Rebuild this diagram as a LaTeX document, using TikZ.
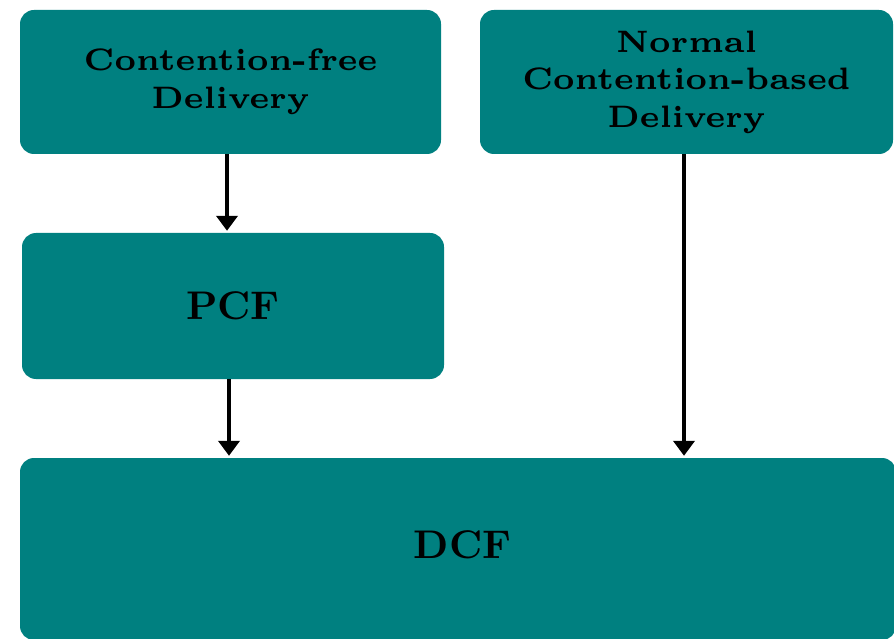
\documentclass[tikz,border=0pt]{standalone}
\usepackage{fontspec}
% wide small-design bold for the box captions, text-size bold for the short labels
\newfontfamily\labelfont{lmroman6-bold}[Extension=.otf]
\newfontfamily\headfont{lmroman10-bold}[Extension=.otf]
\usetikzlibrary{arrows.meta}
\definecolor{boxteal}{RGB}{0,128,128}
\begin{document}
\begin{tikzpicture}[x=1pt,y=1pt,
  block/.style={fill=boxteal, draw=none, rounded corners=14pt, inner sep=0pt,
    align=center, font=\fontsize{31}{37.5}\labelfont},
  bigtext/.style={font=\fontsize{40}{46}\headfont},
  flow/.style={line width=4.5pt, shorten >=2pt, -{Triangle[length=15pt,width=21pt]}}]
\useasboundingbox (0,0) rectangle (894,638);
\fill[white] (0,0) rectangle (894,638);
\node[block, minimum width=421pt, minimum height=144pt] (cfree) at (230.5,556) {Contention-free\\Delivery};
\node[block, minimum width=413pt, minimum height=144pt] (normal) at (686.5,556) {Normal\\Contention-based\\Delivery};
\node[block, minimum width=422pt, minimum height=146pt, bigtext] (pcf) at (233,332) {PCF};
\node[block, minimum width=876pt, minimum height=182pt] (dcf) at (458,89) {};
\node[bigtext] (dcflabel) at (462.5,93) {DCF};
\coordinate (a1) at (227,484);
\coordinate (a2) at (229,259);
\coordinate (a3) at (684,484);
\draw[flow] (a1) -- (a1 |- pcf.north);
\draw[flow] (a2) -- (a2 |- dcf.north);
\draw[flow] (a3) -- (a3 |- dcf.north);
\end{tikzpicture}
\end{document}
